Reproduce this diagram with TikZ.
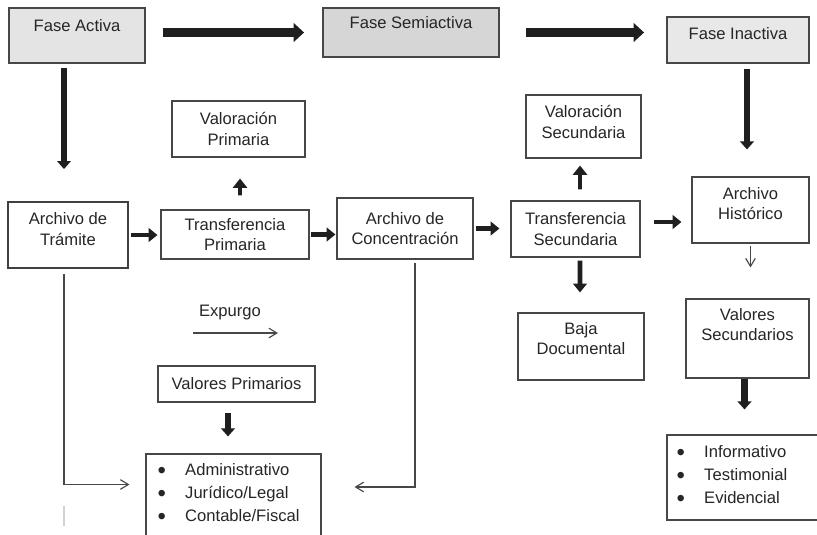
\documentclass[tikz,border=0pt]{standalone}
\usepackage{fontspec}
\setmainfont{Liberation Sans}
\usepackage{tikz}
\usetikzlibrary{positioning, arrows.meta, calc}
\definecolor{boxline}{HTML}{474747}
\definecolor{phasefill}{HTML}{E4E4E4}
\definecolor{phasedark}{HTML}{D6D6D6}
\definecolor{phaselight}{HTML}{E8E8E8}
\definecolor{arrowdark}{HTML}{1F1F1F}
\definecolor{textdark}{HTML}{262626}
\newlength{\unitpx}
\setlength{\unitpx}{0.025cm}
\newcommand{\itembullet}{\makebox[27.5\unitpx][l]{\raisebox{-1.9pt}{\fontsize{17}{17}\selectfont\textbullet}}}

\begin{document}
\begin{tikzpicture}[
    x=0.025cm, y=-0.025cm,
    font=\fontsize{11.8}{14.5}\selectfont,
    box/.style={rectangle, draw=boxline, line width=0.8pt, fill=white,
                inner sep=0pt, align=center, text=textdark},
    phase/.style={box, line width=1.3pt, fill=phasefill},
    lbl/.style={align=center, text=textdark, inner sep=0pt},
    lst/.style={align=left, text=textdark, inner sep=0pt, anchor=west,
                font=\fontsize{11.8}{16.3}\selectfont},
    bigarr/.style={-{Triangle[length=2.6mm, width=4.6mm]}, line width=6.4pt, arrowdark},
    downarr/.style={-{Triangle[length=2mm, width=3.4mm]}, line width=4.8pt, arrowdark},
    midarr/.style={-{Triangle[length=2.2mm, width=3.4mm]}, line width=3.4pt, arrowdark},
    smallarr/.style={-{Triangle[length=2.3mm, width=3.5mm]}, line width=2.8pt, arrowdark},
    thinarr/.style={-{Straight Barb[length=2mm, width=2.4mm]}, line width=0.8pt, boxline}
]
    \useasboundingbox (0,0) rectangle (817,534);

    % Phases
    \node[phase, minimum width=136\unitpx, minimum height=55\unitpx] (fa) at (77,35.5) {};
    \node[lbl] (fatxt) at ([yshift=9.5\unitpx]fa.center) {Fase Activa};
    \node[phase, fill=phasedark, minimum width=176\unitpx, minimum height=49\unitpx] (fs) at (411,32.5) {};
    \node[lbl] (fstxt) at ([yshift=9.5\unitpx]fs.center) {Fase Semiactiva};
    \node[phase, fill=phaselight, minimum width=142\unitpx, minimum height=46\unitpx] (fi) at (738,40) {};
    \node[lbl] (fitxt) at ([yshift=6\unitpx]fi.center) {Fase Inactiva};

    % Valuations
    \node[box, minimum width=133\unitpx, minimum height=56\unitpx] (vp) at (238.5,129) {Valoración\\Primaria};
    \node[box, minimum width=115\unitpx, minimum height=63\unitpx] (vs) at (583.5,126.5) {};
    \node[lbl] (vstxt) at ([yshift=4.5\unitpx]vs.center) {Valoración\\Secundaria};

    % Archives and transfers
    \node[box, line width=1.4pt, draw=black!75, minimum width=120\unitpx, minimum height=66\unitpx] (at) at (68,235) {};
    \node[lbl] (attxt) at ([yshift=6\unitpx]at.center) {Archivo de\\Trámite};
    \node[box, minimum width=148\unitpx, minimum height=49\unitpx] (tp) at (235,234.5) {Transferencia\\Primaria};
    \node[box, minimum width=136\unitpx, minimum height=61\unitpx] (ac) at (405,228.5) {Archivo de\\Concentración};
    \node[box, minimum width=129\unitpx, minimum height=56\unitpx] (ts) at (575.5,229) {Transferencia\\Secundaria};
    \node[box, minimum width=117\unitpx, minimum height=66\unitpx] (ah) at (750.5,210) {};
    \node[lbl] (ahtxt) at ([yshift=6.5\unitpx]ah.center) {Archivo\\Histórico};

    % Lower boxes
    \node[box, minimum width=126\unitpx, minimum height=67\unitpx] (bd) at (581,346.5) {};
    \node[lbl] (bdtxt) at ([yshift=8\unitpx]bd.center) {Baja\\Documental};
    \node[box, minimum width=123\unitpx, minimum height=79\unitpx] (vsec) at (747.5,338.5) {};
    \node[lbl] (vsectxt) at ([yshift=14\unitpx]vsec.center) {Valores\\Secundarios};
    \node[box, minimum width=155\unitpx, minimum height=85\unitpx] (inf) at (744.5,477.5) {};
    \node[lst] (inflist) at ([xshift=10\unitpx, yshift=1.5\unitpx]inf.west)
        {\itembullet Informativo\\
         \itembullet Testimonial\\
         \itembullet Evidencial};

    \node[lbl] (exp) at (230,313) {Expurgo};
    \coordinate (ex1) at (193,333);
    \coordinate (ex2) at (278,333);
    \node[box, minimum width=157\unitpx, minimum height=36\unitpx] (vpr) at (236.5,384) {Valores Primarios};
    \node[box, minimum width=175\unitpx, minimum height=91\unitpx] (prim) at (233.5,499.5) {};
    \node[lst] (primlist) at ([xshift=12\unitpx, yshift=5.5\unitpx]prim.west)
        {\itembullet Administrativo\\
         \itembullet Jurídico/Legal\\
         \itembullet Contable/Fiscal};

    % Arrows between phases
    \draw[bigarr, shorten <=17\unitpx, shorten >=18\unitpx] (fa.east |- fs.west) -- (fs.west);
    \draw[bigarr, shorten <=26\unitpx, shorten >=22\unitpx] (fs.east) -- (fs.east -| fi.west);
    \draw[downarr, shorten <=4\unitpx, shorten >=32\unitpx] ([xshift=-13\unitpx]fa.south) -- ([xshift=-4\unitpx]at.north);
    \draw[downarr, shorten <=5\unitpx, shorten >=27\unitpx] ([xshift=9\unitpx]fi.south) -- ([xshift=-3.5\unitpx]ah.north);

    % Middle row
    \draw[midarr, shorten <=2\unitpx, shorten >=3\unitpx] (at.east) -- (at.east -| tp.west);
    \draw[midarr, shorten <=1\unitpx, shorten >=1\unitpx] (tp.east) -- (tp.east -| ac.west);
    \draw[midarr, shorten <=2\unitpx, shorten >=11\unitpx] (ac.east) -- (ac.east -| ts.west);
    \draw[midarr, shorten <=13\unitpx, shorten >=10\unitpx] ($(ts.east)+(0,-7)$) -- ($(ts.east -| ah.west)+(0,-7)$);

    % Up / down from transfers
    \draw[smallarr, shorten <=14\unitpx, shorten >=21\unitpx] ([xshift=5\unitpx]tp.north) -- ([xshift=1.5\unitpx]vp.south);
    \draw[smallarr, shorten <=11\unitpx, shorten >=7\unitpx] ([xshift=4.5\unitpx]ts.north) -- ([xshift=-3.5\unitpx]vs.south);
    \draw[midarr, shorten <=3\unitpx, shorten >=20\unitpx] ([xshift=4.5\unitpx]ts.south) -- ([xshift=-1\unitpx]bd.north);

    % Secondary values
    \draw[thinarr, shorten <=2\unitpx, shorten >=31\unitpx] (ah.south) -- (ah.south |- vsec.north);
    \draw[downarr, shorten >=25\unitpx] (inf.north |- vsec.south) -- (inf.north);

    % Primary values
    \draw[thinarr] (ex1) -- (ex2);
    \draw[downarr, shorten <=10\unitpx, shorten >=17\unitpx] ([xshift=-8.5\unitpx]vpr.south) -- ([xshift=-5.5\unitpx]prim.north);
    \draw[thinarr, shorten <=5\unitpx] ([xshift=-4\unitpx]at.south) |- ($(prim.west)+(-16,-15)$);
    \draw[thinarr, shorten <=3\unitpx] ([xshift=10\unitpx]ac.south) |- ($(prim.east)+(33,-12.5)$);
    \draw[gray!35, line width=0.8pt] ($(at.south)+(-4,237)$) -- ($(at.south)+(-4,257)$);
\end{tikzpicture}
\end{document}
